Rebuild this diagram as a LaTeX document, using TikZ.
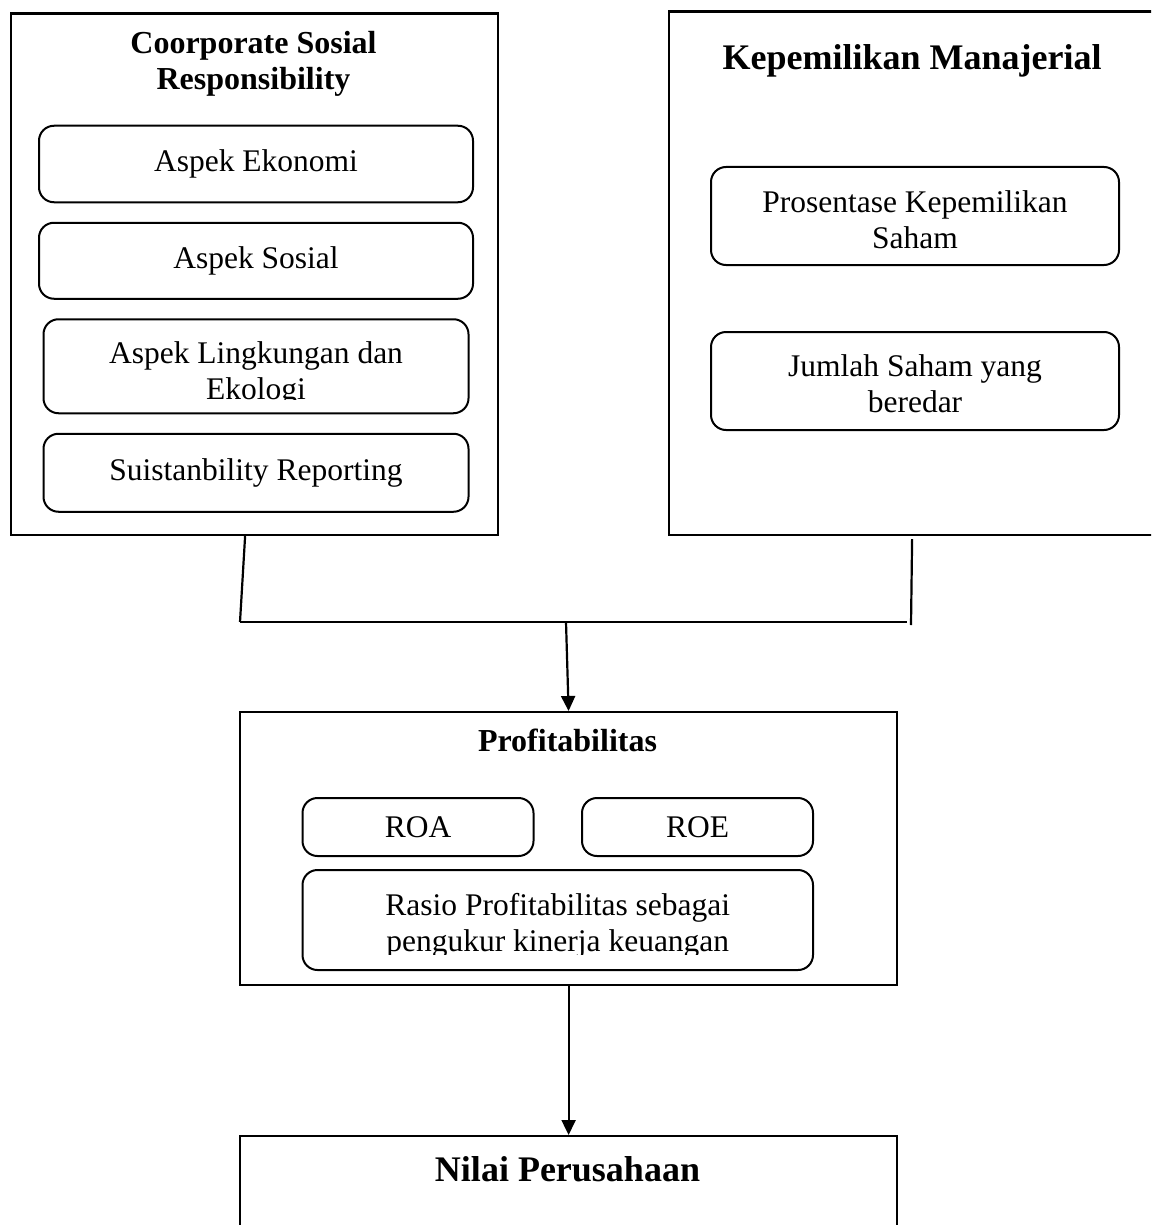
\documentclass[tikz,border=0pt]{standalone}
\usepackage{fontspec}
\setmainfont{Liberation Serif}
\usetikzlibrary{arrows.meta, positioning}

\newcommand{\itemfont}{\fontsize{31.5}{36}\selectfont}
\newcommand{\headfont}{\bfseries\fontsize{32}{36}\selectfont}
\newcommand{\bigheadfont}{\bfseries\fontsize{36}{40}\selectfont}

\tikzset{
  box/.style={draw, line width=2.2pt, inner sep=0pt, anchor=north west},
  item/.style={draw, line width=2pt, rounded corners=15pt, align=center, inner sep=0pt, font=\itemfont},
  itemtext/.style={align=center, inner sep=0pt, font=\itemfont},
  head/.style={align=center, inner sep=0pt, font=\headfont},
  bighead/.style={align=center, inner sep=0pt, font=\bigheadfont},
  conn/.style={line width=2.2pt},
  flow/.style={line width=2.2pt, -{Triangle[length=15pt, width=14pt]}}
}

\begin{document}
\begin{tikzpicture}[x=1pt, y=-1pt, node distance=18.5pt]
  \useasboundingbox (0,0) rectangle (1151,1225);
  \clip (0,0) rectangle (1151,1225);

  % CSR
  \node[box, minimum width=487pt, minimum height=521.5pt] (csr) at (10,12.5) {};
  \node[head] (csrt) at (253.5,64) {Coorporate Sosial\\Responsibility};
  \node[item, minimum width=434pt, minimum height=76.5pt] (eko) at (256,164) {Aspek Ekonomi};
  \node[item, minimum width=434pt, minimum height=76pt, below=of eko] (sos) {Aspek Sosial};
  \node[item, minimum width=425pt, minimum height=94pt, below=of sos] (ling) {};
  \begin{scope}
    \clip (ling.north west) rectangle ([yshift=15pt]ling.south east);
    \node[itemtext, yshift=-8pt] (lingt) at (ling.center) {Aspek Lingkungan dan\\Ekologi};
  \end{scope}
  \node[item, minimum width=425pt, minimum height=78pt, below=of ling] (sus) {Suistanbility Reporting};

  % kepemilikan
  \node[box, minimum width=540pt, minimum height=523.5pt] (km) at (668,10.5) {};
  \node[bighead] (kmt) at (912,61) {Kepemilikan Manajerial};
  \node[item, minimum width=408pt, minimum height=98pt] (pros) at (915,216) {};
  \node[itemtext, yshift=-3.5pt] (prost) at (pros.center) {Prosentase Kepemilikan\\Saham};
  \node[item, minimum width=408pt, minimum height=98pt, below=65pt of pros] (jml) {};
  \node[itemtext, yshift=-3pt] (jmlt) at (jml.center) {Jumlah Saham yang\\beredar};

  % profitabilitas
  \node[box, minimum width=657pt, minimum height=272.5pt] (prof) at (239,711) {};
  \node[head] (proft) at (567.5,740) {Profitabilitas};
  \node[item, minimum width=231pt, minimum height=58pt] (roa) at (418,827) {ROA};
  \node[item, minimum width=231pt, minimum height=58pt] (roe) at (697.5,827) {ROE};
  \node[item, minimum width=510.5pt, minimum height=100pt] (rasio) at (557.75,920) {};
  \begin{scope}
    \clip (rasio.north west) rectangle ([yshift=17pt]rasio.south east);
    \node[itemtext, yshift=-5.5pt] (rasiot) at (rasio.center) {Rasio Profitabilitas sebagai\\pengukur kinerja keuangan};
  \end{scope}

  % nilai
  \node[box, minimum width=657pt, minimum height=150pt] (nilai) at (239,1135) {};
  \node[bighead] (nilait) at (567.5,1169) {Nilai Perusahaan};

  % connectors
  \coordinate (jl) at (240,622);
  \coordinate (jr) at (907,622);
  \coordinate (jre) at (911,625);
  \coordinate (jm) at (566,622);
  \draw[conn] ([xshift=-9.5pt]csr.south) -- (jl);
  \draw[conn] ([xshift=-27pt, yshift=-3pt]km.south) -- (jre);
  \draw[conn] (jl) -- (jr);
  \draw[flow] (jm) -- (prof.north);
  \draw[flow] (prof.south) -- (nilai.north);
\end{tikzpicture}
\end{document}
